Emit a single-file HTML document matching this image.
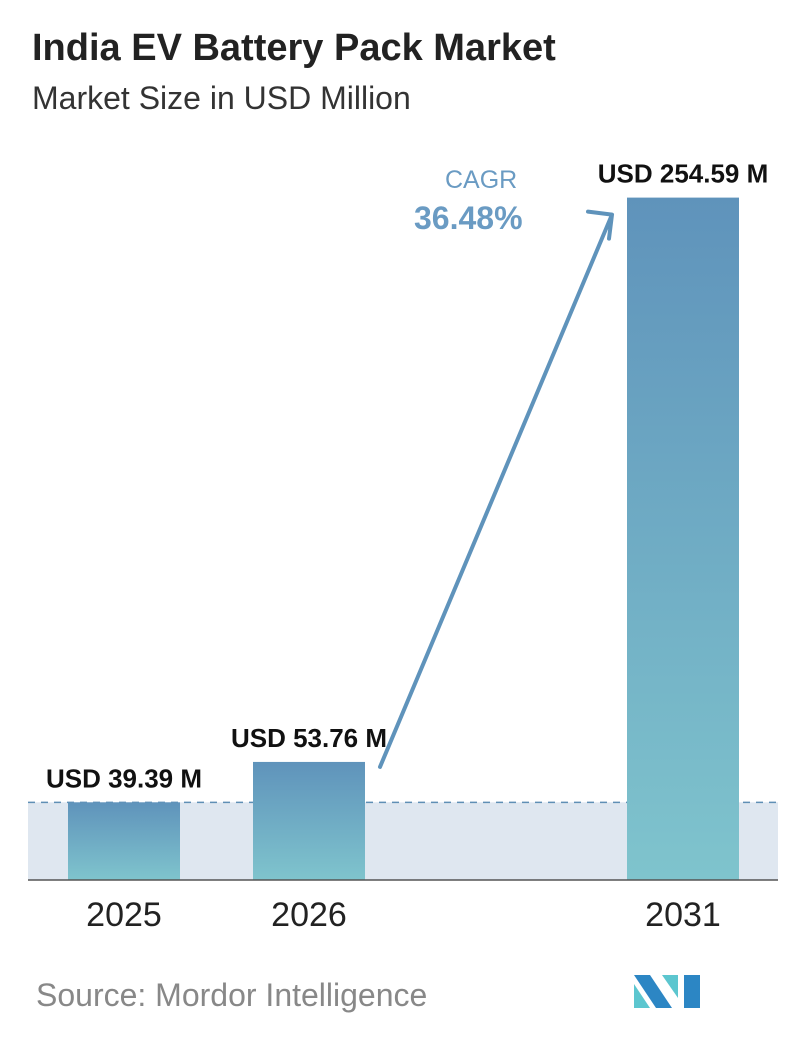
<!DOCTYPE html>
<html><head><meta charset="utf-8"><style>
body{margin:0;background:#fff;width:796px;height:1034px;overflow:hidden;font-family:"Liberation Sans",sans-serif}
</style></head><body>
<svg width="796" height="1034" xmlns="http://www.w3.org/2000/svg">
<defs><linearGradient id="g" x1="0" y1="0" x2="0" y2="1"><stop offset="0" stop-color="#5f93bb"/><stop offset="1" stop-color="#7fc4cd"/></linearGradient></defs>
<text x="32" y="60" font-size="38" font-weight="bold" fill="#222">India EV Battery Pack Market</text>
<text x="32" y="109" font-size="32" fill="#333">Market Size in USD Million</text>
<g id="plot"></g>
<text x="445" y="188" font-size="25" fill="#6a9bc3">CAGR</text>
<text x="414" y="229" font-size="32" font-weight="bold" fill="#6a9bc3">36.48%</text>
<text x="36" y="1006" font-size="32" fill="#888">Source:  Mordor Intelligence</text>
<g>
<polygon points="634,975 650,975 672,1008 656,1008" fill="#2c86c4"/>
<polygon points="634,984 650,1008 634,1008" fill="#5cc6cf"/>
<polygon points="662,975 678,975 678,998" fill="#5cc6cf"/>
<polygon points="684,975 700,975 700,1008 684,1008" fill="#2c86c4"/>
</g>
</svg>
<script>
const categories=["2025","2026","2031"];
const values=[39.39,53.76,254.59];
const labels=["USD 39.39 M","USD 53.76 M","USD 254.59 M"];
const ns="http://www.w3.org/2000/svg",g=document.getElementById('plot');
const base=880,xs=[68,253,627],bw=112;
function y(v){return base-(-33+2.81*v);}
function x(i){return xs[i];}
function mk(t,a,txt){const e=document.createElementNS(ns,t);for(const k in a)e.setAttribute(k,a[k]);if(txt)e.textContent=txt;g.appendChild(e);return e;}
const y0=y(values[0]);
let band=mk('rect',{x:28,y:y0,width:750,height:base-y0,fill:'#dfe7f0'});


let dl=mk('line',{x1:28,x2:778,y1:y0,y2:y0,stroke:'#5f8fb5','stroke-width':1.5,'stroke-dasharray':'7,6'});


values.forEach((v,i)=>{
 const r=mk('rect',{x:x(i),y:y(v),width:bw,height:base-y(v),fill:'url(#g)'});
 
 
 const t=mk('text',{x:x(i)+bw/2,y:y(v)-15,'font-size':26,'font-weight':'bold','text-anchor':'middle',fill:'#111'},labels[i]);
 
 
 const c=mk('text',{x:x(i)+bw/2,y:926,'font-size':34,'text-anchor':'middle',fill:'#222'},categories[i]);
 
 
});
let ax=mk('line',{x1:28,x2:778,y1:base,y2:base,stroke:'#555','stroke-width':1.5});


const ay1=y(values[1])+5,ay2=y(values[2])+17;
let ar=mk('path',{d:`M380 ${ay1} L612 ${ay2} M588 ${ay2-3} L612 ${ay2} L609 ${ay2+24}`,stroke:'#5f93bb','stroke-width':4,fill:'none','stroke-linecap':'round','stroke-linejoin':'round'});


</script>
</body></html>
